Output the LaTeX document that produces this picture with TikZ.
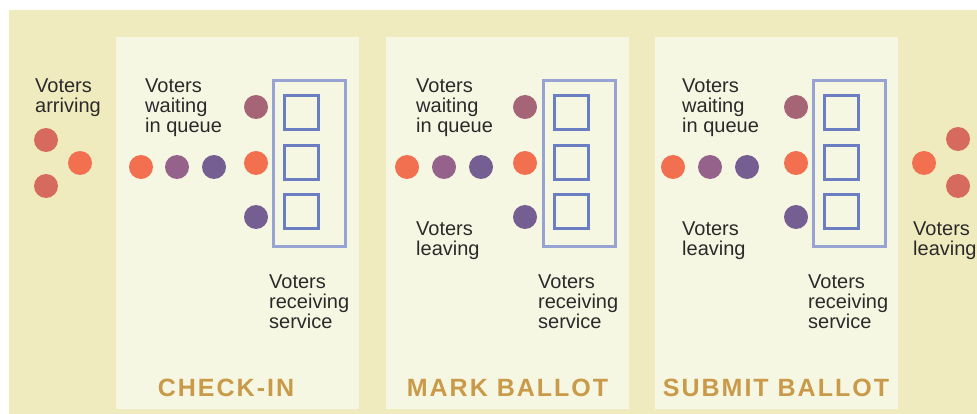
\documentclass[tikz,border=0pt]{standalone}
\usepackage{fontspec}
\setmainfont{Liberation Sans}
\newfontfamily\titlefont[LetterSpace=8]{Liberation Sans Bold}
\definecolor{outerbg}{HTML}{F0EBBF}
\definecolor{panelbg}{HTML}{F6F7E2}
\definecolor{dotred}{HTML}{D76A5F}
\definecolor{dotorange}{HTML}{F26F4F}
\definecolor{dotmauve}{HTML}{94628A}
\definecolor{dotpurple}{HTML}{755E91}
\definecolor{dotpink}{HTML}{A66477}
\definecolor{framecol}{HTML}{97A3D3}
\definecolor{squarecol}{HTML}{6A7EC1}
\definecolor{titlecol}{HTML}{C99A4A}
\definecolor{textcol}{HTML}{2A2A2A}
\tikzset{
  voter/.style={circle, fill=#1, minimum size=24pt, inner sep=0pt},
  panel/.style={fill=panelbg, draw=none, inner sep=0pt, minimum width=243pt, minimum height=372pt},
  frame/.style={draw=framecol, line width=3pt, minimum width=72pt, minimum height=166pt, inner sep=0pt},
  desk/.style={draw=squarecol, line width=3pt, minimum size=34pt, inner sep=0pt},
  label/.style={anchor=north west, inner sep=0pt, align=left, text=textcol, font=\fontsize{20}{20}\selectfont},
  stage/.style={anchor=base, inner sep=0pt, text=titlecol, font=\titlefont\fontsize{25}{25}\selectfont}
}
\begin{document}
\begin{tikzpicture}[x=1pt,y=-1pt]
\useasboundingbox (0,0) rectangle (977,414);
\fill[outerbg] (9,10) rectangle (977,414);
% panels
\node[panel] (p1) at (237.5,223) {};
\node[panel] (p2) at (507.5,223) {};
\node[panel] (p3) at (776.5,223) {};
% arriving
\node[label] (arr) at (35,79) {Voters\\arriving};
\node[voter=dotred] (a1) at (46,140) {};
\node[voter=dotorange] (a2) at (80,163) {};
\node[voter=dotred] (a3) at (46,186) {};
% panel 1
\node[label] (q1) at (145,79) {Voters\\waiting\\in queue};
\node[voter=dotorange] (q1a) at (141,167) {};
\node[voter=dotmauve] (q1b) at (177,167) {};
\node[voter=dotpurple] (q1c) at (214,167) {};
\node[voter=dotpink] (s1a) at (256,107) {};
\node[voter=dotorange] (s1b) at (256,163) {};
\node[voter=dotpurple] (s1c) at (256,217) {};
\node[frame] (f1) at (309.5,163.5) {};
\node[desk] (d1a) at (301.5,113) {};
\node[desk] (d1b) at (301.5,162.5) {};
\node[desk] (d1c) at (301.5,212) {};
\node[label] (r1) at (269,275) {Voters\\receiving\\service};
\node[stage] (t1) at (226,396) {CHECK-IN};
% panel 2
\node[label] (q2) at (416,79) {Voters\\waiting\\in queue};
\node[voter=dotorange] (q2a) at (407,167) {};
\node[voter=dotmauve] (q2b) at (444,167) {};
\node[voter=dotpurple] (q2c) at (481,167) {};
\node[voter=dotpink] (s2a) at (525,107) {};
\node[voter=dotorange] (s2b) at (525,163) {};
\node[voter=dotpurple] (s2c) at (525,217) {};
\node[frame] (f2) at (579,163.5) {};
\node[desk] (d2a) at (571,113) {};
\node[desk] (d2b) at (571,162.5) {};
\node[desk] (d2c) at (571,212) {};
\node[label] (l2) at (416,222) {Voters\\leaving};
\node[label] (r2) at (538,275) {Voters\\receiving\\service};
\node[stage] (t2) at (507.5,396) {MARK BALLOT};
% panel 3
\node[label] (q3) at (682,79) {Voters\\waiting\\in queue};
\node[voter=dotorange] (q3a) at (673,167) {};
\node[voter=dotmauve] (q3b) at (710,167) {};
\node[voter=dotpurple] (q3c) at (747,167) {};
\node[voter=dotpink] (s3a) at (796,107) {};
\node[voter=dotorange] (s3b) at (796,163) {};
\node[voter=dotpurple] (s3c) at (796,217) {};
\node[frame] (f3) at (849.5,163.5) {};
\node[desk] (d3a) at (841,113) {};
\node[desk] (d3b) at (841,162.5) {};
\node[desk] (d3c) at (841,212) {};
\node[label] (l3) at (682,222) {Voters\\leaving};
\node[label] (r3) at (808,275) {Voters\\receiving\\service};
\node[stage] (t3) at (776,396) {SUBMIT BALLOT};
% leaving
\node[voter=dotorange] (e1) at (924,163) {};
\node[voter=dotred] (e2) at (958,139) {};
\node[voter=dotred] (e3) at (958,186) {};
\node[label] (lv) at (913,222) {Voters\\leaving};
\end{tikzpicture}
\end{document}
